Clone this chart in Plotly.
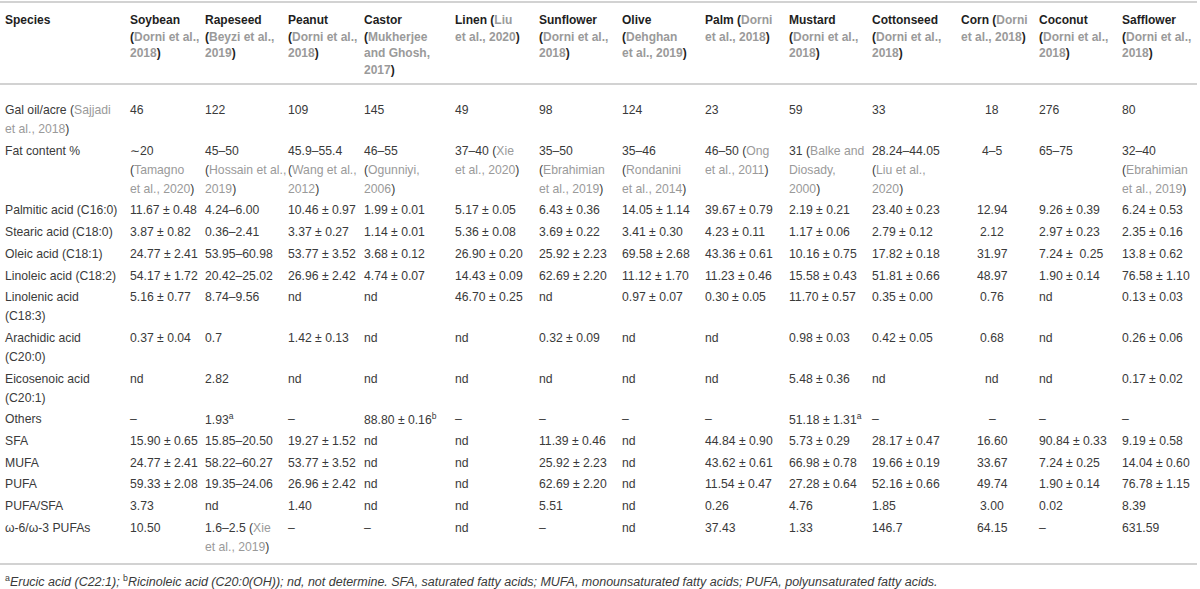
import plotly.graph_objects as go

# header cells: "[...]" marks a citation (grey, in parentheses), "\n" a line break
header = [
    "Species",
    "Soybean\n[Dorni et al.,\n2018]",
    "Rapeseed\n[Beyzi et al.,\n2019]",
    "Peanut\n[Dorni et al.,\n2018]",
    "Castor\n[Mukherjee\nand Ghosh,\n2017]",
    "Linen [Liu\net al., 2020]",
    "Sunflower\n[Dorni et al.,\n2018]",
    "Olive\n[Dehghan\net al., 2019]",
    "Palm [Dorni\net al., 2018]",
    "Mustard\n[Dorni et al.,\n2018]",
    "Cottonseed\n[Dorni et al.,\n2018]",
    "Corn [Dorni\net al., 2018]",
    "Coconut\n[Dorni et al.,\n2018]",
    "Safflower\n[Dorni et al.,\n2018]",
]

row_labels = [
    "Gal oil/acre [Sajjadi\net al., 2018]",
    "Fat content %",
    "Palmitic acid (C16:0)",
    "Stearic acid (C18:0)",
    "Oleic acid (C18:1)",
    "Linoleic acid (C18:2)",
    "Linolenic acid\n(C18:3)",
    "Arachidic acid\n(C20:0)",
    "Eicosenoic acid\n(C20:1)",
    "Others",
    "SFA",
    "MUFA",
    "PUFA",
    "PUFA/SFA",
    "ω-6/ω-3 PUFAs",
]

gal_oil = ["46", "122", "109", "145", "49", "98", "124", "23", "59", "33", "18", "276", "80"]
fat_content = [
    "∼20\n[Tamagno\net al., 2020]", "45–50\n[Hossain et al.,\n2019]", "45.9–55.4\n[Wang et al.,\n2012]",
    "46–55\n[Ogunniyi,\n2006]", "37–40 [Xie\net al., 2020]", "35–50\n[Ebrahimian\net al., 2019]",
    "35–46\n[Rondanini\net al., 2014]", "46–50 [Ong\net al., 2011]", "31 [Balke and\nDiosady,\n2000]",
    "28.24–44.05\n[Liu et al.,\n2020]", "4–5", "65–75", "32–40\n[Ebrahimian\net al., 2019]",
]
palmitic = ["11.67 ± 0.48", "4.24–6.00", "10.46 ± 0.97", "1.99 ± 0.01", "5.17 ± 0.05", "6.43 ± 0.36",
            "14.05 ± 1.14", "39.67 ± 0.79", "2.19 ± 0.21", "23.40 ± 0.23", "12.94", "9.26 ± 0.39", "6.24 ± 0.53"]
stearic = ["3.87 ± 0.82", "0.36–2.41", "3.37 ± 0.27", "1.14 ± 0.01", "5.36 ± 0.08", "3.69 ± 0.22",
           "3.41 ± 0.30", "4.23 ± 0.11", "1.17 ± 0.06", "2.79 ± 0.12", "2.12", "2.97 ± 0.23", "2.35 ± 0.16"]
oleic = ["24.77 ± 2.41", "53.95–60.98", "53.77 ± 3.52", "3.68 ± 0.12", "26.90 ± 0.20", "25.92 ± 2.23",
         "69.58 ± 2.68", "43.36 ± 0.61", "10.16 ± 0.75", "17.82 ± 0.18", "31.97", "7.24 ±  0.25", "13.8 ± 0.62"]
linoleic = ["54.17 ± 1.72", "20.42–25.02", "26.96 ± 2.42", "4.74 ± 0.07", "14.43 ± 0.09", "62.69 ± 2.20",
            "11.12 ± 1.70", "11.23 ± 0.46", "15.58 ± 0.43", "51.81 ± 0.66", "48.97", "1.90 ± 0.14", "76.58 ± 1.10"]
linolenic = ["5.16 ± 0.77", "8.74–9.56", "nd", "nd", "46.70 ± 0.25", "nd",
             "0.97 ± 0.07", "0.30 ± 0.05", "11.70 ± 0.57", "0.35 ± 0.00", "0.76", "nd", "0.13 ± 0.03"]
arachidic = ["0.37 ± 0.04", "0.7", "1.42 ± 0.13", "nd", "nd", "0.32 ± 0.09",
             "nd", "nd", "0.98 ± 0.03", "0.42 ± 0.05", "0.68", "nd", "0.26 ± 0.06"]
eicosenoic = ["nd", "2.82", "nd", "nd", "nd", "nd", "nd", "nd", "5.48 ± 0.36", "nd", "nd", "nd", "0.17 ± 0.02"]
others = ["–", "1.93^a", "–", "88.80 ± 0.16^b", "–", "–", "–", "–", "51.18 ± 1.31^a", "–", "–", "–", "–"]
sfa = ["15.90 ± 0.65", "15.85–20.50", "19.27 ± 1.52", "nd", "nd", "11.39 ± 0.46",
       "nd", "44.84 ± 0.90", "5.73 ± 0.29", "28.17 ± 0.47", "16.60", "90.84 ± 0.33", "9.19 ± 0.58"]
mufa = ["24.77 ± 2.41", "58.22–60.27", "53.77 ± 3.52", "nd", "nd", "25.92 ± 2.23",
        "nd", "43.62 ± 0.61", "66.98 ± 0.78", "19.66 ± 0.19", "33.67", "7.24 ± 0.25", "14.04 ± 0.60"]
pufa = ["59.33 ± 2.08", "19.35–24.06", "26.96 ± 2.42", "nd", "nd", "62.69 ± 2.20",
        "nd", "11.54 ± 0.47", "27.28 ± 0.64", "52.16 ± 0.66", "49.74", "1.90 ± 0.14", "76.78 ± 1.15"]
pufa_sfa = ["3.73", "nd", "1.40", "nd", "nd", "5.51", "nd", "0.26", "4.76", "1.85", "3.00", "0.02", "8.39"]
omega_ratio = ["10.50", "1.6–2.5 [Xie\net al., 2019]", "–", "–", "nd", "–",
               "nd", "37.43", "1.33", "146.7", "64.15", "–", "631.59"]

rows = [gal_oil, fat_content, palmitic, stearic, oleic, linoleic, linolenic,
        arachidic, eicosenoic, others, sfa, mufa, pufa, pufa_sfa, omega_ratio]

footnote = ("<sup>a</sup><i>Erucic acid (C22:1); </i><sup>b</sup><i>Ricinoleic acid (C20:0(OH)); "
            "nd, not determine. SFA, saturated fatty acids; MUFA, monounsaturated fatty acids; "
            "PUFA, polyunsaturated fatty acids.</i>")

# layout
W, H = 1200, 589
col_x = [3, 128, 203, 286, 362, 453, 537, 620, 703, 787, 870, 959, 1037, 1120]
center_col = 11   # Corn values are centred
center_x = 992
GREY = "#9a9a9a"
TEXT = "#3a3a3a"
HEAD = "#1e1e1e"
LINE = "#d2d2d2"
FONT = "Liberation Sans, Arial, sans-serif"
BODY_SIZE = 12.2


def fmt_lines(text):
    out = []
    in_ref = False
    for line in text.split("\n"):
        s = f"<span style='color:{GREY}'>" if in_ref else ""
        for ch in line:
            if ch == "[":
                s += f"(<span style='color:{GREY}'>"
                in_ref = True
            elif ch == "]":
                s += "</span>)"
                in_ref = False
            else:
                s += ch
        if in_ref:
            s += "</span>"
        s = s.replace("^a", "<sup>a</sup>").replace("^b", "<sup>b</sup>")
        out.append(s)
    return out


ann = []


def add_cell(text, x, y, step, bold=False, color=TEXT, anchor="left", size=BODY_SIZE):
    for i, line in enumerate(fmt_lines(text)):
        ann.append(dict(x=x, y=y + i * step, xref="x", yref="y", text=f"<b>{line}</b>" if bold else line,
                        showarrow=False, xanchor=anchor, yanchor="middle",
                        font=dict(family=FONT, size=size, color=color)))


# header
for j, h in enumerate(header):
    add_cell(h, col_x[j], 20, 16.7, bold=True, color=HEAD, size=12)

# body
y = 110
for label, vals in zip(row_labels, rows):
    add_cell(label, col_x[0], y, 19)
    for j, v in enumerate(vals):
        if j + 1 == center_col:
            add_cell(v, center_x, y, 19, anchor="center")
        else:
            add_cell(v, col_x[j + 1], y, 19)
    n_lines = max(len(c.split("\n")) for c in [label] + vals)
    y += 21.7 + 19 * (n_lines - 1)

ann.append(dict(x=3, y=581, xref="x", yref="y", text=footnote, showarrow=False,
                xanchor="left", yanchor="middle", font=dict(family=FONT, size=12.5, color=TEXT)))

shapes = [dict(type="line", x0=0, x1=1197, y0=yy, y1=yy, xref="x", yref="y",
               line=dict(color=LINE, width=2)) for yy in (2, 84, 564)]

fig = go.Figure()
fig.update_layout(
    width=W, height=H,
    margin=dict(l=0, r=0, t=0, b=0),
    paper_bgcolor="white", plot_bgcolor="white",
    xaxis=dict(range=[0, W], visible=False, fixedrange=True),
    yaxis=dict(range=[H, 0], visible=False, fixedrange=True),
    annotations=ann, shapes=shapes, showlegend=False,
)
fig.write_html("out.html", config={"displayModeBar": False},
               post_script="document.body.style.margin='0';document.body.style.overflow='hidden';")
